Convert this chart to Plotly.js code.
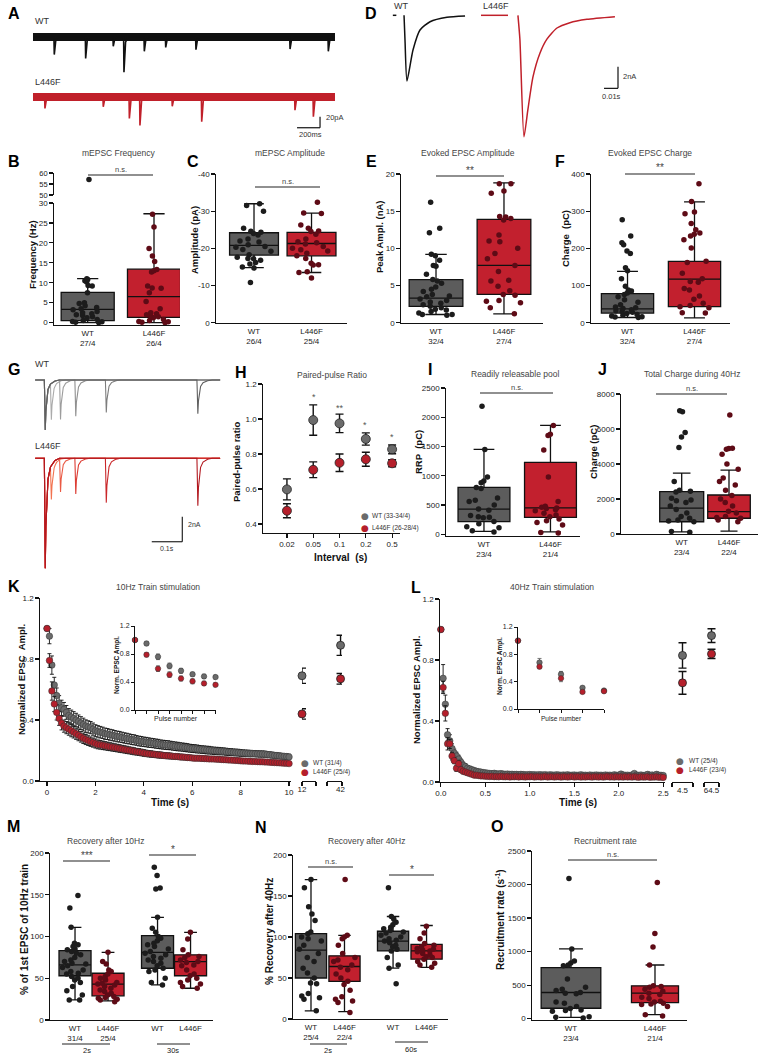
<!DOCTYPE html>
<html><head><meta charset="utf-8">
<script src="https://cdn.plot.ly/plotly-3.0.1.min.js"></script>
<style>body{margin:0;background:#fff}#chart{width:760px;height:1056px}</style>
</head><body><div id="chart"></div>
<script>
// ================= DATA =================
// A: mEPSC example traces (event time s, amplitude pA)
const A_duration = 2.626;
const A_WT_t = [0.185,0.458,0.698,0.791,0.968,1.154,1.417,2.235,2.568];
const A_WT_amp = [32,39,17,64,26,19,23,22,26];
const A_L_t = [0.104,0.611,0.838,0.930,1.211,1.467,2.278,2.438];
const A_L_amp = [21,18,39,52,17,45,24,36];
// D: evoked EPSC traces (ms, nA)
const D_WT_t = [0,0.7,2.1,6.4,11.4,18.6,30.7,43.6];
const D_WT_v = [0,-2.3,-6.05,-3.2,-1.35,-0.59,-0.18,-0.06];
const D_L_t = [0,1.4,4.3,7.1,10.7,15.7,20.7,27.9,37.1,49.3,69.3];
const D_L_v = [0,-2.2,-11.2,-8.7,-5.7,-3.5,-2.2,-1.17,-0.68,-0.37,-0.13];
// G: paired pulse traces
const G_intervals = [0.02,0.05,0.1,0.2,0.5];
const G_WT_first = 4.0, G_L_first = 8.8;
const G_WT_second = [2.9,3.15,2.9,2.6,2.7];
const G_L_second = [2.7,2.7,2.85,3.55,3.8];
const G_tpl_t = [0,0.001,0.003,0.005,0.008,0.012,0.02,0.035,0.05];
const G_tpl_v = [0,-0.3,-1,-0.62,-0.36,-0.19,-0.08,-0.02,0];
// Box plot stats [lowerWhisker,q1,median,q3,upperWhisker] and points
const B_WT_stats=[0,0.5,3.3,7.6,11.05], B_L_stats=[0,1.3,6.5,13.4,27.3];
const B_WT_pts=[57,11,10.8,10.5,10.2,9.3,9.2,7.5,5,4.8,4.2,3.8,3.5,3.2,2.8,2.5,2.2,2,1.8,1.5,1.2,0.8,0.5,0.3,0.2,0.1,0];
const B_L_pts=[27.2,24,18.6,16.7,15.3,13.3,13,12.7,9.2,8.7,8.6,7.5,5.3,3.5,2.5,2.2,2,1.8,1.5,1.2,0.8,0.5,0.3,0.2,0.1,0];
const B_labels=['WT<br>27/4','L446F<br>26/4'];
const C_WT_stats=[-32,-24.2,-20.8,-18.2,-14.8], C_L_stats=[-29.5,-24.3,-21.3,-18,-13.5];
const C_WT_pts=[-32,-31.5,-30,-25.4,-24.6,-24.3,-24,-23.6,-22.5,-22,-21.7,-21,-20.5,-20.3,-19.7,-19.2,-18.3,-17.6,-17.3,-17.2,-16.8,-16.2,-15.8,-15,-14.7,-10.8];
const C_L_pts=[-32.4,-29.5,-29.4,-26.3,-25.4,-24.7,-24.5,-23.8,-22.5,-21.8,-21.5,-21.2,-20.5,-20,-19.6,-19.3,-18.7,-18,-17.3,-16,-15.6,-15.5,-13.7,-13.5,-12];
const C_labels=['WT<br>26/4','L446F<br>25/4'];
const E_WT_stats=[1.1,2.2,3.3,5.8,9.2], E_L_stats=[1.2,3.8,7.7,13.9,18.8];
const E_WT_pts=[16.2,12.7,12.1,9.2,9.0,8.4,7.7,7.6,6.5,5.8,5.6,5.3,4.8,4.5,4.2,3.8,3.6,3.5,3.2,3.0,2.8,2.6,2.4,2.2,2.0,1.8,1.7,1.5,1.3,1.1,1.1,1.0];
const E_L_pts=[18.7,18.7,17.7,17.4,14.3,14.2,14.0,13.8,11.8,11.0,10.9,10.0,9.3,8.6,7.7,6.9,5.7,5.6,4.9,4.3,3.8,3.7,3.0,2.9,2.7,2.0,1.2];
const E_labels=['WT<br>32/4','L446F<br>27/4'];
const F_WT_stats=[14,26,37,78,138], F_L_stats=[13,43,117,165,325];
const F_WT_pts=[277,233,215,210,193,186,148,140,118,98,88,85,80,76,70,62,55,48,42,40,38,35,32,30,28,25,22,20,18,16,15,14];
const F_L_pts=[374,326,298,293,267,250,241,238,233,223,201,165,162,133,118,111,109,92,88,72,63,52,46,43,40,27,26];
const F_labels=['WT<br>32/4','L446F<br>27/4'];
const I_WT_stats=[50,215,430,800,1450], I_L_stats=[40,290,450,1230,1860];
const I_WT_pts=[2190,1450,980,910,880,800,780,620,580,560,500,430,410,320,300,290,280,220,180,130,110,60,40];
const I_L_pts=[1860,1710,1690,1440,980,560,480,460,450,440,420,400,360,330,300,260,230,200,160,30,20];
const I_labels=['WT<br>23/4','L446F<br>21/4'];
const J_WT_stats=[120,700,1480,2420,3480], J_L_stats=[170,900,1280,2230,3650];
const J_WT_pts=[7050,6980,5800,5550,4950,3000,2500,2450,2400,2050,1950,1900,1800,1600,1400,1200,1000,900,800,750,700,150,100];
const J_L_pts=[6800,4900,4880,4850,4560,4000,3700,3200,3000,2800,2500,2200,2000,1800,1600,1300,1200,1000,950,900,800,700];
const J_labels=['WT<br>23/4','L446F<br>22/4'];
const M_WT2_stats=[24,53,66,83,111], M_L2_stats=[23,29,43,56,81], M_WT30_stats=[42,62,81,101,123], M_L30_stats=[38,53,70,78,105];
const M_WT2_pts=[149,134,111,92,90,88,85,84,82,80,78,75,72,70,68,67,65,63,60,58,56,55,52,50,48,45,40,35,30,24,24];
const M_L2_pts=[81,70,67,60,58,55,52,50,48,45,44,43,42,40,38,36,34,32,30,28,27,26,25,24,22];
const M_WT30_pts=[183,173,158,157,123,110,105,100,98,95,92,90,88,85,82,80,78,76,74,72,70,68,65,62,60,58,50,45,42];
const M_L30_pts=[105,97,84,78,76,75,72,70,69,66,65,60,55,53,50,48,45,43,40,38];
const M_labels=['WT<br>31/4','L446F<br>25/4','WT','L446F'];
const N_WT2_stats=[10,50,84,104,170], N_L2_stats=[9,46,64,77,102], N_WT60_stats=[62,83,95,107,125], N_L60_stats=[63,73,83,91,114];
const N_WT2_pts=[170,160,137,128,120,106,104,100,98,95,90,85,80,75,70,62,56,50,44,43,31,28,26,24,10];
const N_L2_pts=[170,102,100,98,90,80,75,72,70,66,63,60,55,50,46,42,35,27,24,22,20,8];
const N_WT60_pts=[160,125,122,118,115,112,110,108,106,105,102,100,98,96,95,93,90,88,85,83,75,66,62,43];
const N_L60_pts=[113,105,98,92,90,88,86,85,84,83,82,80,78,76,75,73,70,68,66,63];
const N_labels=['WT<br>25/4','L446F<br>22/4','WT','L446F'];
const O_WT_stats=[20,155,390,760,1040], O_L_stats=[60,240,380,490,800];
const O_WT_pts=[2090,1040,860,830,800,790,590,470,440,420,390,380,370,250,230,180,150,130,120,110,30,20,10];
const O_L_pts=[2030,1270,1070,800,490,480,470,440,410,380,360,320,300,260,250,230,220,210,180,60,40];
const O_labels=['WT<br>23/4','L446F<br>21/4'];
// H: paired-pulse ratio
const H_labels=['0.02','0.05','0.1','0.2','0.5'];
const H_WT=[0.598,0.994,0.975,0.886,0.827], H_WT_err=[0.06,0.087,0.053,0.035,0.025];
const H_L=[0.476,0.71,0.75,0.77,0.747], H_L_err=[0.04,0.045,0.05,0.04,0.02];
// K: 10 Hz train (101 stimuli, 0.1 s apart)
const K_WT=[1.00,0.95,0.76,0.63,0.56,0.51,0.48,0.47,0.45,0.43,0.42,
 0.41,0.40,0.39,0.38,0.37,0.36,0.355,0.35,0.34,0.33,
 0.325,0.32,0.316,0.31,0.308,0.303,0.30,0.296,0.292,0.29,
 0.286,0.282,0.279,0.276,0.272,0.27,0.266,0.262,0.26,0.257,
 0.255,0.252,0.25,0.248,0.245,0.243,0.24,0.238,0.236,0.235,
 0.233,0.23,0.228,0.226,0.224,0.222,0.22,0.218,0.215,0.213,
 0.212,0.21,0.208,0.206,0.205,0.203,0.202,0.20,0.198,0.197,
 0.196,0.195,0.194,0.192,0.19,0.19,0.188,0.187,0.186,0.184,
 0.183,0.182,0.181,0.18,0.18,0.179,0.178,0.177,0.177,0.176,
 0.174,0.172,0.17,0.168,0.167,0.165,0.163,0.162,0.16,0.158];
const K_WT_err=[0,0.05,0.06,0.05,0.05,0.05,0.05,0.045,0.045,0.045,0.045,
 0.045,0.044,0.043,0.042,0.042,0.041,0.04,0.04,0.04,0.039,
 0.038,0.038,0.037,0.037,0.036,0.036,0.036,0.035,0.035,0.035,
 0.034,0.034,0.034,0.033,0.033,0.033,0.032,0.032,0.032,0.031,
 0.031,0.031,0.03,0.03,0.03,0.03,0.029,0.029,0.029,0.029,
 0.028,0.028,0.028,0.028,0.027,0.027,0.027,0.027,0.026,0.026,
 0.026,0.026,0.025,0.025,0.025,0.025,0.025,0.024,0.024,0.024,
 0.024,0.023,0.023,0.023,0.023,0.022,0.022,0.022,0.022,0.022,
 0.021,0.021,0.021,0.021,0.02,0.02,0.02,0.02,0.02,0.02,
 0.019,0.019,0.019,0.019,0.018,0.018,0.018,0.018,0.018,0.018];
const K_L=[1.00,0.79,0.59,0.505,0.45,0.41,0.38,0.36,0.35,0.34,0.33,
 0.32,0.31,0.30,0.29,0.28,0.272,0.265,0.258,0.252,0.246,
 0.24,0.237,0.234,0.231,0.228,0.225,0.222,0.219,0.216,0.213,
 0.21,0.207,0.204,0.201,0.198,0.195,0.192,0.19,0.187,0.184,
 0.181,0.179,0.177,0.175,0.173,0.171,0.17,0.168,0.166,0.165,
 0.164,0.162,0.161,0.16,0.158,0.157,0.156,0.154,0.153,0.151,
 0.15,0.15,0.149,0.148,0.147,0.146,0.145,0.145,0.144,0.143,
 0.142,0.141,0.14,0.139,0.138,0.137,0.136,0.135,0.134,0.132,
 0.131,0.131,0.13,0.129,0.128,0.128,0.127,0.126,0.126,0.125,
 0.124,0.123,0.122,0.121,0.12,0.119,0.118,0.117,0.116,0.114];
const K_L_err=[0,0.045,0.06,0.05,0.05,0.045,0.045,0.04,0.04,0.04,0.04,
 0.038,0.037,0.036,0.035,0.034,0.033,0.032,0.031,0.03,0.03,
 0.029,0.028,0.028,0.027,0.027,0.026,0.026,0.025,0.025,0.025,
 0.024,0.024,0.024,0.023,0.023,0.023,0.022,0.022,0.022,0.022,
 0.021,0.021,0.021,0.02,0.02,0.02,0.02,0.019,0.019,0.019,
 0.019,0.018,0.018,0.018,0.018,0.018,0.017,0.017,0.017,0.017,
 0.017,0.016,0.016,0.016,0.016,0.016,0.016,0.015,0.015,0.015,
 0.015,0.015,0.015,0.014,0.014,0.014,0.014,0.014,0.014,0.014,
 0.013,0.013,0.013,0.013,0.013,0.013,0.013,0.013,0.012,0.012,
 0.012,0.012,0.012,0.012,0.012,0.012,0.012,0.012,0.012,0.012];
const K_rec_t=[12,42], K_rec_WT=[0.69,0.89], K_rec_WT_err=[0.05,0.066], K_rec_L=[0.44,0.67], K_rec_L_err=[0.034,0.035];
const K_in_WT=[1.0,0.95,0.76,0.63,0.56,0.51,0.48,0.47], K_in_WT_err=[0,0.03,0.04,0.04,0.035,0.03,0.03,0.03];
const K_in_L=[1.0,0.79,0.59,0.505,0.45,0.41,0.38,0.36], K_in_L_err=[0,0.03,0.04,0.04,0.035,0.035,0.03,0.03];
// L: 40 Hz train (101 stimuli, 0.025 s apart)
const L_WT=[1.00,0.68,0.51,0.31,0.27,0.22,0.19,0.17,0.15,0.13,
 0.11,0.10,0.09,0.085,0.08,0.075,0.07,0.068,0.065,0.062,
 0.06,0.058,0.056,0.055,0.057,0.054,0.053,0.055,0.052,0.051,
 0.052,0.05,0.051,0.049,0.05,0.048,0.05,0.049,0.047,0.048,
 0.049,0.047,0.048,0.046,0.048,0.047,0.046,0.048,0.045,0.047,
 0.046,0.045,0.047,0.046,0.044,0.046,0.045,0.047,0.044,0.045,
 0.046,0.044,0.045,0.047,0.044,0.045,0.043,0.046,0.044,0.045,
 0.046,0.044,0.045,0.043,0.046,0.044,0.045,0.043,0.047,0.044,
 0.045,0.052,0.046,0.044,0.045,0.043,0.046,0.056,0.045,0.044,
 0.046,0.043,0.045,0.05,0.044,0.046,0.043,0.05,0.045,0.044,0.043];
const L_WT_err=[0,0.09,0.06,0.04,0.04,0.03,0.025,0.025,0.025,0.02,
 0.02,0.02,0.018,0.018,0.016,0.015,0.015,0.014,0.013,0.013,
 0.012,0.012,0.012,0.012,0.012,0.012,0.012,0.012,0.012,0.012,
 0.012,0.012,0.012,0.012,0.012,0.012,0.012,0.012,0.012,0.012,
 0.011,0.011,0.011,0.011,0.011,0.011,0.011,0.011,0.011,0.011,
 0.011,0.011,0.011,0.011,0.011,0.011,0.011,0.011,0.011,0.011,
 0.011,0.011,0.011,0.011,0.011,0.011,0.011,0.011,0.011,0.011,
 0.011,0.011,0.011,0.011,0.011,0.011,0.011,0.011,0.011,0.011,
 0.011,0.011,0.011,0.011,0.011,0.011,0.011,0.011,0.011,0.011,
 0.011,0.011,0.011,0.011,0.011,0.011,0.011,0.011,0.011,0.011,0.011];
const L_L=[1.00,0.62,0.45,0.25,0.25,0.17,0.14,0.09,0.12,0.08,
 0.07,0.065,0.06,0.055,0.05,0.045,0.045,0.042,0.04,0.04,
 0.038,0.037,0.036,0.038,0.035,0.036,0.034,0.037,0.035,0.034,
 0.036,0.033,0.035,0.034,0.036,0.033,0.035,0.034,0.033,0.035,
 0.034,0.036,0.033,0.034,0.035,0.033,0.034,0.036,0.033,0.034,
 0.035,0.033,0.034,0.035,0.032,0.034,0.035,0.033,0.034,0.036,
 0.033,0.034,0.035,0.032,0.034,0.033,0.035,0.034,0.032,0.035,
 0.034,0.033,0.035,0.032,0.034,0.036,0.033,0.034,0.032,0.035,
 0.033,0.034,0.032,0.035,0.033,0.034,0.032,0.035,0.033,0.031,
 0.034,0.032,0.033,0.035,0.031,0.033,0.032,0.034,0.031,0.032,0.03];
const L_L_err=[0,0.04,0.05,0.04,0.03,0.025,0.02,0.02,0.02,0.018,
 0.016,0.015,0.014,0.013,0.012,0.012,0.011,0.011,0.01,0.01,
 0.01,0.01,0.01,0.01,0.01,0.01,0.01,0.01,0.01,0.01,
 0.01,0.01,0.01,0.01,0.01,0.01,0.01,0.01,0.01,0.01,
 0.01,0.01,0.01,0.01,0.01,0.01,0.01,0.01,0.01,0.01,
 0.01,0.01,0.01,0.01,0.01,0.01,0.01,0.01,0.01,0.01,
 0.01,0.01,0.01,0.01,0.01,0.01,0.01,0.01,0.01,0.01,
 0.01,0.01,0.01,0.01,0.01,0.01,0.01,0.01,0.01,0.01,
 0.01,0.01,0.01,0.01,0.01,0.01,0.01,0.01,0.01,0.01,
 0.01,0.01,0.01,0.01,0.01,0.01,0.01,0.01,0.01,0.01,0.01];
const L_rec_t=[4.5,64.5], L_rec_WT=[0.83,0.96], L_rec_WT_err=[0.083,0.045], L_rec_L=[0.65,0.84], L_rec_L_err=[0.075,0.03];
const L_in_WT=[1.0,0.68,0.51,0.31,0.27], L_in_WT_err=[0,0.06,0.04,0.02,0.015];
const L_in_L=[1.0,0.62,0.45,0.25,0.26], L_in_L_err=[0,0.03,0.05,0.02,0.015];
const K_period=0.1, L_period=0.025;

// ================= BUILD =================
const W=760, HH=1056;
const FX=p=>p/W, FY=p=>1-p/HH;
const FONT='Liberation Sans, Arial, sans-serif';
const NARROW='Liberation Sans Narrow, Liberation Sans, Arial, sans-serif';
const WT_BOX='#5c5c5c', L_BOX='#c2202e', WT_PT='#1c1c1c', L_PT='#5e0b16', WT_S='#6b6b6b', L_S='#b51f2b';
const traces=[], annotations=[], shapes=[];
const layout={width:W,height:HH,margin:{l:0,r:0,t:0,b:0},paper_bgcolor:'#fff',plot_bgcolor:'rgba(0,0,0,0)',showlegend:false,font:{family:FONT}};
const baseAx={showline:true,linecolor:'#111',linewidth:1.3,ticks:'outside',ticklen:3.5,tickwidth:1.2,tickcolor:'#111',showgrid:false,zeroline:false,tickfont:{family:NARROW,size:8,color:'#222'},fixedrange:true,type:'linear'};
let xc=0,yc=0;
const rf=(c,a)=>c===1?a:a+c, ky=(c,a)=>c===1?a+'axis':a+'axis'+c;
function pair(xd,yd,xo,yo){xc++;yc++;const xr=rf(xc,'x'),yr=rf(yc,'y');
  layout[ky(xc,'x')]=Object.assign({},baseAx,{domain:[FX(xd[0]),FX(xd[1])],anchor:yr},xo);
  layout[ky(yc,'y')]=Object.assign({},baseAx,{domain:[FY(yd[1]),FY(yd[0])],anchor:xr},yo);
  return {x:xr,y:yr};}
function extraX(xd,yr,xo){xc++;const xr=rf(xc,'x');layout[ky(xc,'x')]=Object.assign({},baseAx,{domain:[FX(xd[0]),FX(xd[1])],anchor:yr},xo);return xr;}
function extraY(yd,xr,yo){yc++;const yr=rf(yc,'y');layout[ky(yc,'y')]=Object.assign({},baseAx,{domain:[FY(yd[1]),FY(yd[0])],anchor:xr},yo);return yr;}
function txt(x,y,text,o){annotations.push(Object.assign({xref:'paper',yref:'paper',x:FX(x),y:FY(y),text:text,showarrow:false,xanchor:'center',yanchor:'middle',font:{family:FONT,size:8.5,color:'#444'}},o||{}));}
function letter(x,y,t){txt(x,y,'<b>'+t+'</b>',{font:{family:FONT,size:16,color:'#000'}});}
function ytitle(x,y,t,s){txt(x,y,'<b>'+t+'</b>',{textangle:-90,font:{family:FONT,size:s||9.5,color:'#111'}});}
function xtitle(x,y,t,s){txt(x,y,'<b>'+t+'</b>',{font:{family:FONT,size:s||10,color:'#111'}});}
function hline(x0,x1,y,w){shapes.push({type:'line',xref:'paper',yref:'paper',x0:FX(x0),x1:FX(x1),y0:FY(y),y1:FY(y),line:{color:'#222',width:w||1.1}});}
function sig(x0,x1,y,t){hline(x0,x1,y);txt((x0+x1)/2,y-6,t,{font:{family:FONT,size:t.indexOf('*')>=0?10:7.5,color:'#444'}});}
const hidden={visible:false};

function ptsTrace(xr,yr,s){return {type:'box',xaxis:xr,yaxis:yr,y:s.pts,x0:s.pos,width:s.w,boxpoints:'all',jitter:0.8,pointpos:0,
  fillcolor:'rgba(0,0,0,0)',line:{color:'rgba(0,0,0,0)',width:0},whiskerwidth:0,marker:{color:s.pc,size:5.5,line:{width:0}},hoverinfo:'skip',showlegend:false};}
function boxPanel(ax,specs){
  specs.forEach(s=>traces.push({type:'box',xaxis:ax.x,yaxis:ax.y,x:[s.pos],lowerfence:[s.st[0]],q1:[s.st[1]],median:[s.st[2]],q3:[s.st[3]],upperfence:[s.st[4]],
    width:s.w,whiskerwidth:0.4,fillcolor:s.fill,line:{color:'#111',width:1.3},boxpoints:false,hoverinfo:'skip',showlegend:false}));
  specs.forEach(s=>traces.push(ptsTrace(ax.x,ax.y,s)));
}
function sp(pos,st,pts,isWT,w){return {pos:pos,st:st,pts:pts,w:w,fill:isWT?WT_BOX:L_BOX,pc:isWT?WT_PT:L_PT};}
const boxX=(range,vals,labels)=>({range:range,tickvals:vals,ticktext:labels,ticks:'',tickfont:{family:FONT,size:8,color:'#222'}});

// ---------- A ----------
const axA=pair([30,345],[20,140],Object.assign({range:[-0.026,2.713]},hidden),Object.assign({range:[-187.3,30.9]},hidden));
function eventTrace(ts,amps,off,col){const x=[0],y=[off];ts.forEach((t,i)=>{x.push(t-0.003,t,t+0.005,t+0.014,t+0.035);y.push(off,off-amps[i],off-amps[i]*0.45,off-amps[i]*0.15,off);});x.push(A_duration);y.push(off);
  traces.push({type:'scatter',mode:'lines',xaxis:axA.x,yaxis:axA.y,x:[0,A_duration],y:[off,off],line:{color:col,width:8},hoverinfo:'skip'});
  traces.push({type:'scatter',mode:'lines',xaxis:axA.x,yaxis:axA.y,x:x,y:y,line:{color:col,width:1.6},hoverinfo:'skip'});}
eventTrace(A_WT_t,A_WT_amp,0,'#111');
eventTrace(A_L_t,A_L_amp,-109,'#c0202a');
shapes.push({type:'line',xref:axA.x,yref:axA.y,x0:2.296,x1:2.496,y0:-165,y1:-165,line:{color:'#111',width:1.2}});
shapes.push({type:'line',xref:axA.x,yref:axA.y,x0:2.496,x1:2.496,y0:-165,y1:-145,line:{color:'#111',width:1.2}});
txt(324,118,'20pA',{xanchor:'left',font:{family:FONT,size:7.5,color:'#333'}});
txt(310,134,'200ms',{font:{family:FONT,size:7.5,color:'#333'}});
txt(33,21,'WT',{xanchor:'left',font:{family:FONT,size:9,color:'#333'}});
txt(33,82,'L446F',{xanchor:'left',font:{family:FONT,size:9,color:'#333'}});
letter(14,13,'A');

// ---------- D ----------
const axD=pair([385,625],[5,145],Object.assign({range:[-13.6,157.9]},hidden),Object.assign({range:[-11.95,0.95]},hidden));
const D_L_offset=81.4;
traces.push({type:'scatter',mode:'lines',xaxis:axD.x,yaxis:axD.y,x:[-8,-5.5],y:[0,0],line:{color:'#111',width:1.5}});
traces.push({type:'scatter',mode:'lines',xaxis:axD.x,yaxis:axD.y,x:D_WT_t,y:D_WT_v,line:{color:'#111',width:1.5,shape:'spline',smoothing:0.6}});
traces.push({type:'scatter',mode:'lines',xaxis:axD.x,yaxis:axD.y,x:[-26.4+D_L_offset,-7.1+D_L_offset],y:[0,0],line:{color:'#c0202a',width:1.5}});
traces.push({type:'scatter',mode:'lines',xaxis:axD.x,yaxis:axD.y,x:D_L_t.map(t=>t+D_L_offset),y:D_L_v,line:{color:'#c0202a',width:1.5,shape:'spline',smoothing:0.6}});
shapes.push({type:'line',xref:axD.x,yref:axD.y,x0:142.9,x1:152.9,y0:-6.73,y1:-6.73,line:{color:'#111',width:1.2}});
shapes.push({type:'line',xref:axD.x,yref:axD.y,x0:152.9,x1:152.9,y0:-6.73,y1:-4.74,line:{color:'#111',width:1.2}});
txt(621,77,'2nA',{xanchor:'left',font:{family:FONT,size:7.5,color:'#333'}});
txt(611,96,'0.01s',{font:{family:FONT,size:7.5,color:'#333'}});
txt(392,6,'WT',{xanchor:'left',font:{family:FONT,size:9,color:'#333'}});
txt(481,6,'L446F',{xanchor:'left',font:{family:FONT,size:9,color:'#333'}});
letter(371,13,'D');

// ---------- B ----------
const axB=pair([54,180],[203,325],boxX([-0.508,1.392],[0,1],B_labels),{range:[-0.6,30],tickvals:[0,5,10,15,20,25,30]});
const yBu=extraY([173,195],axB.x,{range:[50,60],tickvals:[50,55,60],tickfont:{family:NARROW,size:7.5,color:'#222'}});
boxPanel(axB,[sp(0,B_WT_stats,B_WT_pts,true,0.8),sp(1,B_L_stats,B_L_pts,false,0.8)]);
traces.push(ptsTrace(axB.x,yBu,sp(0,B_WT_stats,B_WT_pts,true,0.8)));
sig(88,153,175,'n.s.');
txt(118,153,'mEPSC Frequency');
ytitle(33,255,'Frequency (Hz)',9.5);
letter(14,161,'B');

// ---------- C ----------
const axC=pair([216,347],[174,322.7],boxX([-0.661,1.617],[0,1],C_labels),{range:[0,-40],tickvals:[0,-10,-20,-30,-40],ticktext:['0','-10','-20','-30','-40']});
boxPanel(axC,[sp(0,C_WT_stats,C_WT_pts,true,0.85),sp(1,C_L_stats,C_L_pts,false,0.85)]);
sig(255,320,187,'n.s.');
txt(290,153,'mEPSC Amplitude');
ytitle(194,240,'Amplitude (pA)',9.5);
letter(193,161,'C');

// ---------- E ----------
const axE=pair([401,543],[174,322.7],boxX([-0.515,1.574],[0,1],E_labels),{range:[0,20],tickvals:[0,5,10,15,20]});
boxPanel(axE,[sp(0,E_WT_stats,E_WT_pts,true,0.79),sp(1,E_L_stats,E_L_pts,false,0.79)]);
sig(436,504,176,'**');
txt(468,153,'Evoked EPSC Amplitude');
ytitle(380,237,'Peak Ampl. (nA)',9.5);
letter(371,161,'E');

// ---------- F ----------
const axF=pair([591,730],[174,322.7],boxX([-0.545,1.53],[0,1],F_labels),{range:[0,400],tickvals:[0,100,200,300,400]});
boxPanel(axF,[sp(0,F_WT_stats,F_WT_pts,true,0.78),sp(1,F_L_stats,F_L_pts,false,0.78)]);
sig(625,695,174,'**');
txt(650,153,'Evoked EPSC Charge');
ytitle(565,239,'Charge  (pC)',9.5);
letter(560,161,'F');

// ---------- G ----------
const axG=pair([30,225],[372,575],Object.assign({range:[-0.047,0.592]},hidden),Object.assign({range:[-15.6,0.64]},hidden));
function tpl(dt){if(dt<=0||dt>=G_tpl_t[G_tpl_t.length-1])return 0;for(let i=1;i<G_tpl_t.length;i++){if(dt<=G_tpl_t[i]){const f=(dt-G_tpl_t[i-1])/(G_tpl_t[i]-G_tpl_t[i-1]);return G_tpl_v[i-1]+f*(G_tpl_v[i]-G_tpl_v[i-1]);}}return 0;}
function gTrace(first,second,iv,off,col){const s=new Set([-0.03,0.576]);G_tpl_t.forEach(t=>{s.add(t);s.add(+(t+iv).toFixed(5));});
  const xs=[...s].sort((a,b)=>a-b);const ys=xs.map(t=>off+first*tpl(t)+second*tpl(t-iv));
  traces.push({type:'scatter',mode:'lines',xaxis:axG.x,yaxis:axG.y,x:xs,y:ys,line:{color:col,width:1.1},hoverinfo:'skip'});}
const G_WT_cols=['#ababab','#9d9d9d','#8f8f8f','#7d7d7d','#5f5f5f'], G_L_cols=['#f27350','#ea5a44','#dc3c33','#c9272a','#b2181f'];
G_intervals.forEach((iv,i)=>gTrace(G_WT_first,G_WT_second[i],iv,0,G_WT_cols[i]));
G_intervals.forEach((iv,i)=>gTrace(G_L_first,G_L_second[i],iv,-6.26,G_L_cols[i]));
shapes.push({type:'line',xref:axG.x,yref:axG.y,x0:0.352,x1:0.452,y0:-12.94,y1:-12.94,line:{color:'#111',width:1.1}});
shapes.push({type:'line',xref:axG.x,yref:axG.y,x0:0.452,x1:0.452,y0:-12.94,y1:-10.94,line:{color:'#111',width:1.1}});
txt(186,524,'2nA',{xanchor:'left',font:{family:FONT,size:7,color:'#333'}});
txt(167,548,'0.1s',{font:{family:FONT,size:7,color:'#333'}});
txt(33,364,'WT',{xanchor:'left',font:{family:FONT,size:9,color:'#333'}});
txt(33,446,'L446F',{xanchor:'left',font:{family:FONT,size:9,color:'#333'}});
letter(14,370,'G');

// ---------- H ----------
const axH=pair([263,400],[384,533],{range:[-0.91,4.3],tickvals:[0,1,2,3,4],ticktext:H_labels,tickfont:{family:FONT,size:8,color:'#222'}},
  {range:[0.349,1.2],tickvals:[0.4,0.6,0.8,1.0,1.2],ticktext:['0.4','0.6','0.8','1.0','1.2']});
const hIdx=H_labels.map((_,i)=>i);
traces.push({type:'scatter',mode:'markers',xaxis:axH.x,yaxis:axH.y,x:hIdx,y:H_WT,error_y:{type:'data',array:H_WT_err,color:'#111',thickness:1.4,width:4},marker:{color:WT_S,size:9,line:{color:'#222',width:0.8}},cliponaxis:false});
traces.push({type:'scatter',mode:'markers',xaxis:axH.x,yaxis:axH.y,x:hIdx,y:H_L,error_y:{type:'data',array:H_L_err,color:'#111',thickness:1.4,width:4},marker:{color:L_S,size:9,line:{color:'#222',width:0.8}},cliponaxis:false});
txt(314,397,'*',{font:{family:FONT,size:9,color:'#555'}});
txt(340,408,'**',{font:{family:FONT,size:9,color:'#555'}});
txt(365,425,'*',{font:{family:FONT,size:9,color:'#555'}});
txt(392,437,'*',{font:{family:FONT,size:9,color:'#555'}});
txt(365,516,'●',{font:{family:'DejaVu Sans',size:9,color:WT_S}});
txt(365,528,'●',{font:{family:'DejaVu Sans',size:9,color:L_S}});
txt(370,516,'WT (33-34/4)',{xanchor:'left',font:{family:FONT,size:6.5,color:'#333'}});
txt(370,528,'L446F (26-28/4)',{xanchor:'left',font:{family:FONT,size:6.5,color:'#333'}});
txt(332,375,'Paired-pulse Ratio');
ytitle(236,462,'Paired-pulse ratio',9.5);
xtitle(340,557,'Interval  (s)',10);
letter(241,372,'H');

// ---------- I ----------
const axI=pair([446,580],[388,536],boxX([-0.571,1.444],[0,1],I_labels),{range:[-30,2500],tickvals:[0,500,1000,1500,2000,2500]});
boxPanel(axI,[sp(0,I_WT_stats,I_WT_pts,true,0.78),sp(1,I_L_stats,I_L_pts,false,0.78)]);
sig(480,553,393,'n.s.');
txt(515,374,'Readily releasable pool');
ytitle(419,452,'RRP  (pC)',9.5);
letter(430,370,'I');

// ---------- J ----------
const axJ=pair([621,758],[394,534],boxX([-1.283,1.613],[0,1],J_labels),{range:[0,8000],tickvals:[0,2000,4000,6000,8000]});
boxPanel(axJ,[sp(0,J_WT_stats,J_WT_pts,true,0.93),sp(1,J_L_stats,J_L_pts,false,0.9)]);
sig(656,727,394,'n.s.');
txt(692,374,'Total Charge during 40Hz');
ytitle(594,452,'Charge (pC)',9.5);
letter(602,370,'J');

// ---------- K ----------
const K_t=K_WT.map((_,i)=>+(i*K_period).toFixed(2));
const axK=pair([40,291],[598,781],{range:[-0.29,10.08],tickvals:[0,2,4,6,8,10]},{range:[0,1.2],tickvals:[0,0.4,0.8,1.2],ticktext:['0.0','0.4','0.8','1.2']});
const segStyle=(rng,v,lab)=>({range:rng,tickvals:[v],ticktext:[lab],ticks:'',minor:{tickmode:'array',tickvals:rng,ticks:'outside',ticklen:4,tickwidth:1.2,tickcolor:'#111'}});
const xK12=extraX([302,316],axK.y,segStyle([12,13.4],12,'12'));
const xK42=extraX([327,342],axK.y,segStyle([40.6,42.15],42,'42'));
function trainTraces(xr,yr,t,wt,wte,l,le,sz,ec,et){
  traces.push({type:'scatter',mode:'markers',xaxis:xr,yaxis:yr,x:t,y:wt,error_y:{type:'data',array:wte,color:ec,thickness:et,width:2},marker:{color:WT_S,size:sz,line:{color:'#333',width:0.5}},cliponaxis:false});
  traces.push({type:'scatter',mode:'markers',xaxis:xr,yaxis:yr,x:t,y:l,error_y:{type:'data',array:le,color:ec,thickness:et,width:2},marker:{color:L_S,size:sz,line:{color:'#333',width:0.5}},cliponaxis:false});}
trainTraces(axK.x,axK.y,K_t,K_WT,K_WT_err,K_L,K_L_err,6.5,'#111',0.9);
[xK12,xK42].forEach((xr,i)=>{
  traces.push({type:'scatter',mode:'markers',xaxis:xr,yaxis:axK.y,x:[K_rec_t[i]],y:[K_rec_WT[i]],error_y:{type:'data',array:[K_rec_WT_err[i]],color:'#111',thickness:1.4,width:4},marker:{color:WT_S,size:8,line:{color:'#222',width:0.8}},cliponaxis:false});
  traces.push({type:'scatter',mode:'markers',xaxis:xr,yaxis:axK.y,x:[K_rec_t[i]],y:[K_rec_L[i]],error_y:{type:'data',array:[K_rec_L_err[i]],color:'#111',thickness:1.4,width:4},marker:{color:L_S,size:8,line:{color:'#222',width:0.8}},cliponaxis:false});});
const inAx={ticklen:3,tickwidth:1,linewidth:1,tickfont:{family:NARROW,size:7,color:'#222'}};
const axKi=pair([135,216],[626,710],Object.assign({},inAx,{range:[1,8.04],tickvals:[1,2,3,4,5,6,7,8],showticklabels:false}),Object.assign({},inAx,{range:[0,1.2],tickvals:[0,0.4,0.8,1.2],ticktext:['0.0','0.4','0.8','1.2']}));
const K_pulse=K_in_WT.map((_,i)=>i+1);
trainTraces(axKi.x,axKi.y,K_pulse,K_in_WT,K_in_WT_err,K_in_L,K_in_L_err,5.5,'#777',1);
txt(176,718,'Pulse number',{font:{family:FONT,size:7,color:'#222'}});
ytitle(117,665,'Norm. EPSC Ampl.',6.5);
txt(305,763,'●',{font:{family:'DejaVu Sans',size:9,color:WT_S}});
txt(305,772,'●',{font:{family:'DejaVu Sans',size:9,color:L_S}});
txt(311,763,'WT (31/4)',{xanchor:'left',font:{family:FONT,size:6.5,color:'#333'}});
txt(311,772,'L446F (25/4)',{xanchor:'left',font:{family:FONT,size:6.5,color:'#333'}});
txt(158,587,'10Hz Train stimulation');
ytitle(21,680,'Normalized EPSC  Ampl.',9.5);
xtitle(170,802,'Time (s)',10);
letter(14,586,'K');

// ---------- L ----------
const L_t=L_WT.map((_,i)=>+(i*L_period).toFixed(3));
const axL=pair([440,665],[599,782],{range:[-0.01,2.52],tickvals:[0,0.5,1,1.5,2,2.5],ticktext:['0.0','0.5','1.0','1.5','2.0','2.5']},{range:[0,1.2],tickvals:[0,0.4,0.8,1.2],ticktext:['0.0','0.4','0.8','1.2']});
const xL45=extraX([672,693],axL.y,segStyle([4,5],4.5,'4.5'));
const xL645=extraX([704,719],axL.y,segStyle([64,65],64.5,'64.5'));
trainTraces(axL.x,axL.y,L_t,L_WT,L_WT_err,L_L,L_L_err,6.5,'#111',0.9);
[xL45,xL645].forEach((xr,i)=>{
  traces.push({type:'scatter',mode:'markers',xaxis:xr,yaxis:axL.y,x:[L_rec_t[i]],y:[L_rec_WT[i]],error_y:{type:'data',array:[L_rec_WT_err[i]],color:'#111',thickness:1.4,width:4},marker:{color:WT_S,size:8,line:{color:'#222',width:0.8}},cliponaxis:false});
  traces.push({type:'scatter',mode:'markers',xaxis:xr,yaxis:axL.y,x:[L_rec_t[i]],y:[L_rec_L[i]],error_y:{type:'data',array:[L_rec_L_err[i]],color:'#111',thickness:1.4,width:4},marker:{color:L_S,size:8,line:{color:'#222',width:0.8}},cliponaxis:false});});
const axLi=pair([518,604],[627,709],Object.assign({},inAx,{range:[1,5],tickvals:[1,2,3,4,5],showticklabels:false}),Object.assign({},inAx,{range:[0,1.2],tickvals:[0,0.4,0.8,1.2],ticktext:['0.0','0.4','0.8','1.2']}));
const L_pulse=L_in_WT.map((_,i)=>i+1);
trainTraces(axLi.x,axLi.y,L_pulse,L_in_WT,L_in_WT_err,L_in_L,L_in_L_err,5.5,'#777',1);
txt(561,718,'Pulse number',{font:{family:FONT,size:6.5,color:'#222'}});
ytitle(500,666,'Norm. EPSC Ampl.',6.5);
txt(680,761,'●',{font:{family:'DejaVu Sans',size:9,color:WT_S}});
txt(680,770,'●',{font:{family:'DejaVu Sans',size:9,color:L_S}});
txt(687,761,'WT (25/4)',{xanchor:'left',font:{family:FONT,size:6.5,color:'#333'}});
txt(687,770,'L446F (23/4)',{xanchor:'left',font:{family:FONT,size:6.5,color:'#333'}});
txt(552,587,'40Hz Train stimulation');
ytitle(416,690,'Normalized EPSC Ampl.',9.5);
xtitle(578,802,'Time (s)',10);
letter(416,587,'L');

// ---------- M ----------
const axM=pair([50,213],[853,1020],boxX([-0.758,4.18],[0,1,2.5,3.5],M_labels),{range:[0,200],tickvals:[0,50,100,150,200]});
boxPanel(axM,[sp(0,M_WT2_stats,M_WT2_pts,true,0.97),sp(1,M_L2_stats,M_L2_pts,false,0.97),sp(2.5,M_WT30_stats,M_WT30_pts,true,0.97),sp(3.5,M_L30_stats,M_L30_pts,false,0.97)]);
sig(63,110,861,'***');
sig(149,196,855,'*');
hline(62,110,1044,1);txt(87,1050,'2s',{font:{family:FONT,size:7.5,color:'#222'}});
hline(157,190,1044,1);txt(173,1050,'30s',{font:{family:FONT,size:7.5,color:'#222'}});
txt(106,841,'Recovery after 10Hz');
ytitle(24,930,'% of 1st EPSC of 10Hz train',10);
letter(14,826,'M');

// ---------- N ----------
const axN=pair([293,448],[855,1019],boxX([-0.537,4.09],[0,1,2.45,3.45],N_labels),{range:[0,200],tickvals:[0,50,100,150,200]});
boxPanel(axN,[sp(0,N_WT2_stats,N_WT2_pts,true,0.93),sp(1,N_L2_stats,N_L2_pts,false,0.93),sp(2.45,N_WT60_stats,N_WT60_pts,true,0.93),sp(3.45,N_L60_stats,N_L60_pts,false,0.93)]);
sig(308,353,867,'n.s.');
sig(389,434,875,'*');
hline(310,347,1044,1);txt(328,1050,'2s',{font:{family:FONT,size:7.5,color:'#222'}});
hline(395,428,1042,1);txt(411,1049,'60s',{font:{family:FONT,size:7.5,color:'#222'}});
txt(366,841,'Recovery after 40Hz');
ytitle(269,932,'% Recovery after 40Hz',10);
letter(261,827,'N');

// ---------- O ----------
const axO=pair([532,687],[851,1020],boxX([-0.464,1.381],[0,1],O_labels),{range:[-20,2500],tickvals:[0,500,1000,1500,2000,2500]});
boxPanel(axO,[sp(0,O_WT_stats,O_WT_pts,true,0.71),sp(1,O_L_stats,O_L_pts,false,0.56)]);
sig(568,657,860,'n.s.');
txt(605,841,'Recruitment rate');
ytitle(500,920,'Recruitment rate (s<sup>-1</sup>)',10);
letter(497,826,'O');

layout.annotations=annotations;
layout.shapes=shapes;
Plotly.newPlot('chart',traces,layout,{displayModeBar:false,staticPlot:true});
</script></body></html>
